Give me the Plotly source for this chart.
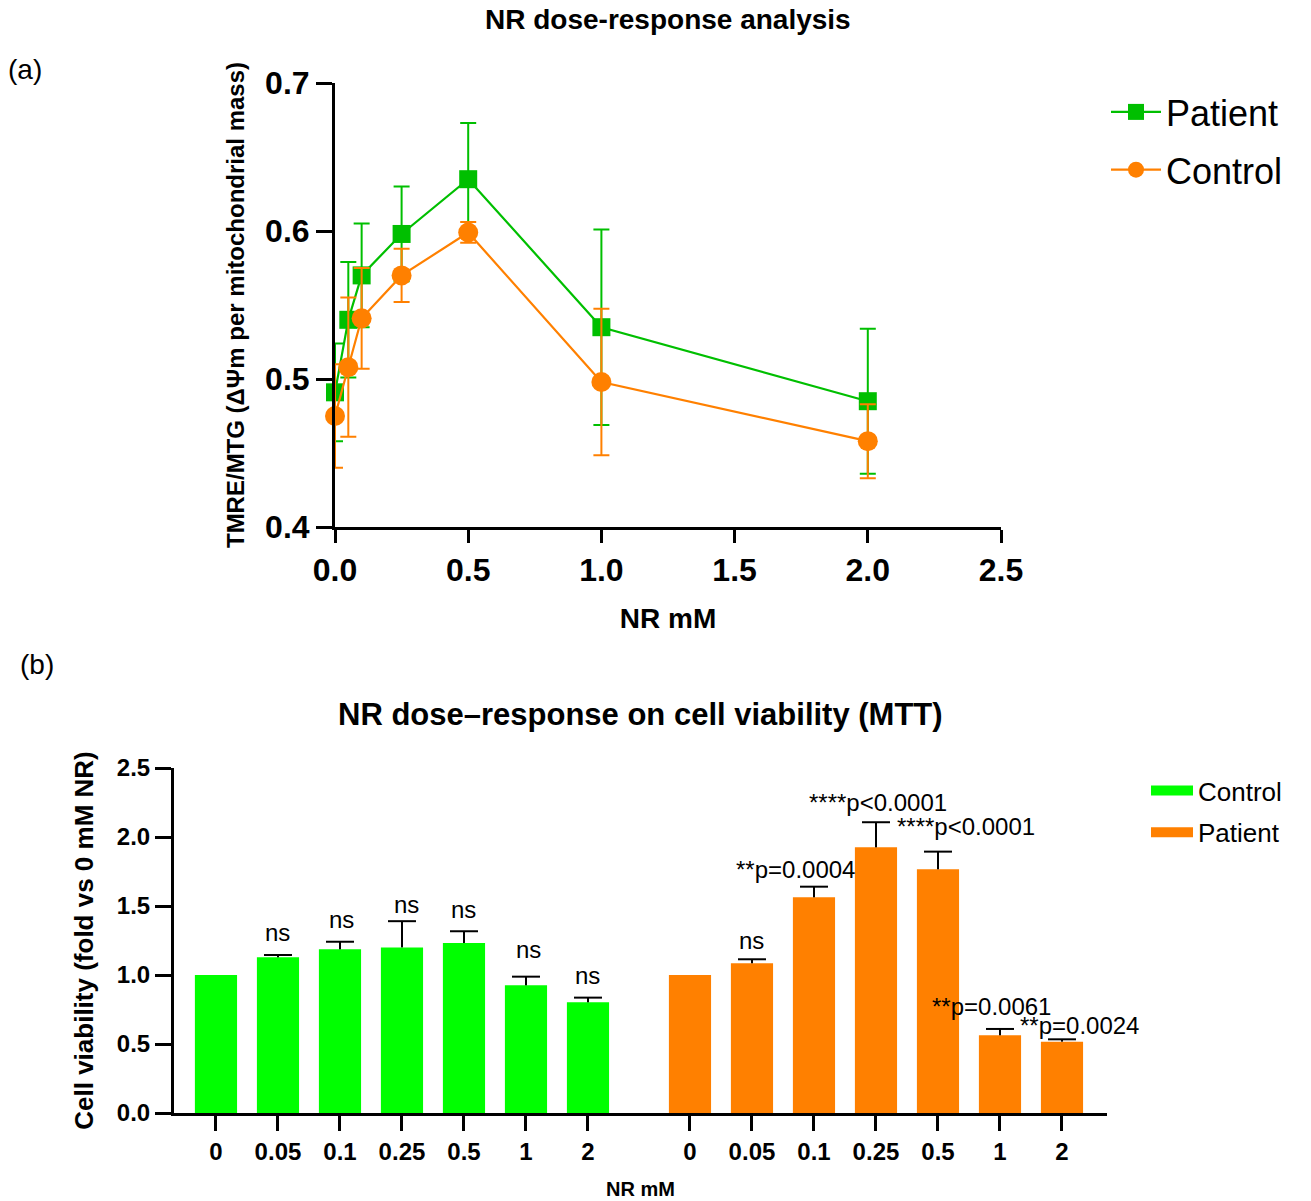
import plotly.graph_objects as go

W, H = 1311, 1201

# ---------------- data: panel (a) ----------------
doses_a = [0, 0.05, 0.1, 0.25, 0.5, 1.0, 2.0]
patient_a = [0.491, 0.540, 0.570, 0.598, 0.635, 0.535, 0.485]
patient_a_err = [0.033, 0.039, 0.035, 0.032, 0.038, 0.066, 0.049]
control_a = [0.475, 0.508, 0.541, 0.570, 0.599, 0.498, 0.458]
control_a_err = [0.035, 0.047, 0.034, 0.018, 0.007, 0.0495, 0.025]
xticks_a = [0.0, 0.5, 1.0, 1.5, 2.0, 2.5]
yticks_a = [0.4, 0.5, 0.6, 0.7]

# ---------------- data: panel (b) ----------------
dose_labels_b = ["0", "0.05", "0.1", "0.25", "0.5", "1", "2"]
control_b = [1.0, 1.128, 1.186, 1.200, 1.232, 0.925, 0.802]
control_b_err = [0.0, 0.017, 0.055, 0.190, 0.085, 0.063, 0.034]
patient_b = [1.0, 1.085, 1.563, 1.925, 1.766, 0.563, 0.517]
patient_b_err = [0.0, 0.029, 0.077, 0.182, 0.128, 0.046, 0.017]
control_b_labels = ["", "ns", "ns", "ns", "ns", "ns", "ns"]
patient_b_labels = ["", "ns", "**p=0.0004", "****p<0.0001", "****p<0.0001",
                    "**p=0.0061", "**p=0.0024"]
yticks_b = [0.0, 0.5, 1.0, 1.5, 2.0, 2.5]

# ---------------- style / layout constants ----------------
GREEN_A = "#00BF00"
ORANGE = "#FF8000"
GREEN_B = "#00FF00"
FONT = "Liberation Sans, Arial, sans-serif"
GROUP_GAP = 1.645          # extra slot distance between the two bar groups
BAR_WIDTH = 0.68
ctrl_label_dx = [0, 0, 2, 5, 0, 3, 0]
ctrl_label_dy = [7, 7, 7, 1, 6, 12, 7]
pat_label_dx = [0, 0, -18, 2, 28, -8, 18]
pat_label_dy = [7, 3, 2, 4, 10, 7, -2]


def px(x):
    return x / W


def py(y):
    return 1 - y / H


n = len(dose_labels_b)
pos_ctrl = list(range(n))
pos_pat = [i + n - 1 + GROUP_GAP for i in range(n)]

fig = go.Figure()

# ---- panel (a) ----
fig.add_trace(go.Scatter(
    x=doses_a, y=patient_a, name="Patient", mode="lines+markers", cliponaxis=False,
    line=dict(color=GREEN_A, width=2.2),
    marker=dict(symbol="square", size=18, color=GREEN_A),
    error_y=dict(type="data", array=patient_a_err, color=GREEN_A, thickness=2, width=8),
    xaxis="x", yaxis="y", legend="legend", legendgroup="p",
))
fig.add_trace(go.Scatter(
    x=doses_a, y=control_a, name="Control", mode="lines+markers", cliponaxis=False,
    line=dict(color=ORANGE, width=2.2),
    marker=dict(symbol="circle", size=20, color=ORANGE),
    error_y=dict(type="data", array=control_a_err, color=ORANGE, thickness=2, width=8),
    xaxis="x", yaxis="y", legend="legend", legendgroup="c",
))

# ---- panel (b) ----
zeros = [0.0] * n
fig.add_trace(go.Bar(
    x=pos_ctrl, y=control_b, width=BAR_WIDTH, marker=dict(color=GREEN_B, line=dict(width=0)),
    error_y=dict(type="data", array=control_b_err, arrayminus=zeros, symmetric=False,
                 color="black", thickness=2, width=0),
    name="Control", showlegend=False, xaxis="x2", yaxis="y2",
))
fig.add_trace(go.Bar(
    x=pos_pat, y=patient_b, width=BAR_WIDTH, marker=dict(color=ORANGE, line=dict(width=0)),
    error_y=dict(type="data", array=patient_b_err, arrayminus=zeros, symmetric=False,
                 color="black", thickness=2, width=0),
    name="Patient", showlegend=False, xaxis="x2", yaxis="y2",
))
# caps of the upward error bars
cap_x = [p for p, e in zip(pos_ctrl + pos_pat, control_b_err + patient_b_err) if e > 0]
cap_y = [v + e for v, e in zip(control_b + patient_b, control_b_err + patient_b_err) if e > 0]
fig.add_trace(go.Scatter(
    x=cap_x, y=cap_y, mode="markers", showlegend=False, hoverinfo="skip",
    marker=dict(symbol="line-ew", size=20, line=dict(color="black", width=2)),
    xaxis="x2", yaxis="y2",
))
# legend entries for panel (b)
fig.add_trace(go.Scatter(x=[None], y=[None], mode="lines", name="Control",
                         line=dict(color=GREEN_B, width=14), legend="legend2",
                         legendgroup="bc", xaxis="x2", yaxis="y2"))
fig.add_trace(go.Scatter(x=[None], y=[None], mode="lines", name="Patient",
                         line=dict(color=ORANGE, width=14), legend="legend2",
                         legendgroup="bp", xaxis="x2", yaxis="y2"))

annotations = []
for p, v, e, t, dx, dy in zip(pos_ctrl, control_b, control_b_err, control_b_labels,
                              ctrl_label_dx, ctrl_label_dy):
    if t:
        annotations.append(dict(x=p, y=v + e, xref="x2", yref="y2", text=t, showarrow=False,
                                yanchor="bottom", xanchor="center", xshift=dx, yshift=dy,
                                font=dict(size=24, color="black", family=FONT)))
for p, v, e, t, dx, dy in zip(pos_pat, patient_b, patient_b_err, patient_b_labels,
                              pat_label_dx, pat_label_dy):
    if t:
        annotations.append(dict(x=p, y=v + e, xref="x2", yref="y2", text=t, showarrow=False,
                                yanchor="bottom", xanchor="center", xshift=dx, yshift=dy,
                                font=dict(size=24, color="black", family=FONT)))

annotations += [
    dict(x=px(668), y=py(20), xref="paper", yref="paper", text="<b>NR dose-response analysis</b>",
         showarrow=False, xanchor="center", yanchor="middle", font=dict(size=28, family=FONT)),
    dict(x=px(640), y=py(714), xref="paper", yref="paper",
         text="<b>NR dose–response on cell viability (MTT)</b>",
         showarrow=False, xanchor="center", yanchor="middle", font=dict(size=31, family=FONT)),
    dict(x=px(25), y=py(70), xref="paper", yref="paper", text="(a)", showarrow=False,
         xanchor="center", yanchor="middle", font=dict(size=28, family=FONT)),
    dict(x=px(37), y=py(664), xref="paper", yref="paper", text="(b)", showarrow=False,
         xanchor="center", yanchor="middle", font=dict(size=28, family=FONT)),
]

axis_common = dict(showline=True, linecolor="black", linewidth=3, ticks="outside",
                   tickcolor="black", tickwidth=3, showgrid=False, zeroline=False,
                   mirror=False, automargin=False)

fig.update_layout(
    width=W, height=H,
    margin=dict(l=0, r=0, t=0, b=0, pad=0, autoexpand=False),
    paper_bgcolor="white", plot_bgcolor="white",
    font=dict(family=FONT, color="black"),
    barmode="overlay",
    xaxis=dict(domain=[px(335), px(1001)], range=[0, 2.5], anchor="y",
               tickvals=xticks_a, ticktext=[f"{v:.1f}" for v in xticks_a],
               ticklen=13, tickfont=dict(size=32, family=FONT, weight="bold"),
               title=dict(text="<b>NR mM</b>", font=dict(size=28, family=FONT), standoff=21),
               **axis_common),
    yaxis=dict(domain=[py(527), py(83)], range=[0.4, 0.7], anchor="x",
               tickvals=yticks_a, ticktext=[f"{v:.1f}" for v in yticks_a],
               ticklen=16, tickfont=dict(size=32, family=FONT, weight="bold"),
               title=dict(text="<b>TMRE/MTG (ΔΨm per mitochondrial mass)</b>",
                          font=dict(size=24, family=FONT), standoff=14),
               **axis_common),
    xaxis2=dict(domain=[px(174), px(1107)], range=[-0.677, pos_pat[-1] + 0.726], anchor="y2",
                tickvals=pos_ctrl + pos_pat, ticktext=dose_labels_b + dose_labels_b,
                ticklen=15, tickfont=dict(size=24, family=FONT, weight="bold"),
                title=dict(text="<b>NR mM</b>", font=dict(size=20, family=FONT), standoff=19),
                **axis_common),
    yaxis2=dict(domain=[py(1113), py(768)], range=[0, 2.5], anchor="x2",
                tickvals=yticks_b, ticktext=[f"{v:.1f}" for v in yticks_b],
                ticklen=16, tickfont=dict(size=24, family=FONT, weight="bold"),
                title=dict(text="<b>Cell viability (fold vs 0 mM NR)</b>",
                           font=dict(size=26, family=FONT), standoff=16),
                **axis_common),
    legend=dict(x=px(1106), y=py(82), xanchor="left", yanchor="top",
                font=dict(size=36, family=FONT), itemwidth=50, tracegroupgap=8,
                bgcolor="rgba(0,0,0,0)"),
    legend2=dict(x=px(1146), y=py(767), xanchor="left", yanchor="top",
                 font=dict(size=26, family=FONT), itemwidth=42, tracegroupgap=5,
                 bgcolor="rgba(0,0,0,0)"),
    annotations=annotations,
    showlegend=True,
)

fig.write_html("out.html", config={"displayModeBar": False},
               post_script="document.body.style.margin='0px';")
